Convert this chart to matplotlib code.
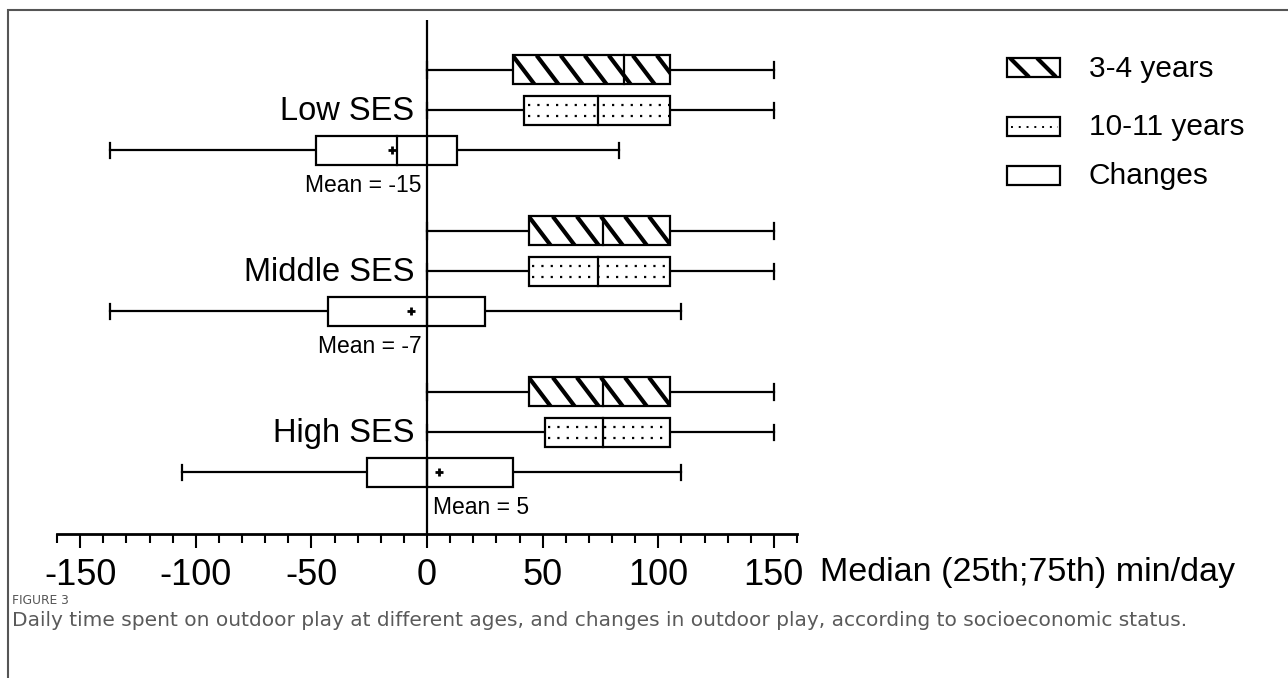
import numpy as np
import matplotlib
matplotlib.use("Agg")
from matplotlib import pyplot as plt
from matplotlib.patches import Rectangle

plt.rcParams["font.family"] = ["Liberation Sans", "DejaVu Sans"]

groups = ["Low SES", "Middle SES", "High SES"]
series = ["3-4 years", "10-11 years", "Changes"]

# whisker low, 25th, median, 75th, whisker high (min/day), one row per SES group
age_34 = [[0, 37, 85, 105, 150], [0, 44, 76, 105, 150], [0, 44, 76, 105, 150]]
age_1011 = [[0, 42, 74, 105, 150], [0, 44, 74, 105, 150], [0, 51, 76, 105, 150]]
changes = [[-137, -48, -13, 13, 83], [-137, -43, 0, 25, 110], [-106, -26, 0, 37, 110]]
change_means = [-15, -7, 5]

major_ticks = list(range(-150, 151, 50))
minor_ticks = list(range(-160, 161, 10))

LW = 1.6
BOX_H = 0.72
CAP_H = 0.38


def draw_box(ax, y, stats, style):
  lo, q1, med, q3, hi = stats
  top, bottom = y - BOX_H / 2, y + BOX_H / 2
  ax.plot([lo, q1], [y, y], color="k", lw=LW, zorder=2)
  ax.plot([q3, hi], [y, y], color="k", lw=LW, zorder=2)
  for x in (lo, hi):
    ax.plot([x, x], [y - CAP_H / 2, y + CAP_H / 2], color="k", lw=LW, zorder=2)
  rect = Rectangle((q1, top), q3 - q1, BOX_H, fc="white", ec="k", lw=LW, zorder=3)
  ax.add_patch(rect)
  if style == "hatch":
    # thick backslash lines like the prism fill
    for x0 in np.arange(q1, q3, 10.4):
      ln, = ax.plot([x0, x0 + 9.5], [top, bottom], color="k", lw=3, zorder=3.5,
                    solid_capstyle="butt")
      ln.set_clip_path(rect)
  elif style == "dots":
    for f in (-0.12, 0.14):
      ln, = ax.plot([q1 + 1.5, q3], [y + f, y + f], color="k", lw=1.6,
                    linestyle=(0, (1, 3.2)), zorder=3.5)
      ln.set_clip_path(rect)
  ax.plot([med, med], [top, bottom], color="k", lw=LW, zorder=4)


fig = plt.figure(figsize=(12.88, 6.78), dpi=100)

# overlay in pixel coords for border, legend, caption
over = fig.add_axes([0, 0, 1, 1])
over.set_xlim(0, 1288)
over.set_ylim(678, 0)
over.axis("off")
over.plot([8, 8, 1288], [678, 10, 10], color="#555555", lw=1.5, solid_joinstyle="miter")

ax = fig.add_axes([57 / 1288, (678 - 534) / 678, 740 / 1288, 514 / 678])
ax.set_facecolor("none")
ax.set_xlim(-160, 160)
ax.set_ylim(11.53, -1.24)

for g, name in enumerate(groups):
  base = 4 * g
  draw_box(ax, base, age_34[g], "hatch")
  draw_box(ax, base + 1, age_1011[g], "dots")
  draw_box(ax, base + 2, changes[g], "plain")
  ax.plot(change_means[g], base + 2, marker="+", ms=6, mew=2, color="k", zorder=5)
  ax.text(-5.5, base + 1.04, name, ha="right", va="center", fontsize=23.5)
  m = change_means[g]
  if m < 0:
    ax.text(-2.5, base + 2.88, "Mean = %d" % m, ha="right", va="center", fontsize=16.5)
  else:
    ax.text(2.5, base + 2.88, "Mean = %d" % m, ha="left", va="center", fontsize=16.5)

ax.axvline(0, color="k", lw=LW, zorder=6)

for s in ("top", "right", "left"):
  ax.spines[s].set_visible(False)
ax.spines["bottom"].set_linewidth(2)
ax.set_yticks([])
ax.set_xticks(major_ticks)
ax.set_xticks(minor_ticks, minor=True)
ax.set_xticklabels([str(t) for t in major_ticks], fontsize=26)
ax.tick_params(axis="x", which="major", length=10, width=1.5, pad=7)
ax.tick_params(axis="x", which="minor", length=6.5, width=1.5)

over.text(820, 572, "Median (25th;75th) min/day", ha="left", va="center", fontsize=24.5)

# legend
leg_y = [58, 117, 166]
leg_text_y = [69, 127, 176]
for i, lab in enumerate(series):
  r = Rectangle((1007, leg_y[i]), 53, 19, fc="white", ec="k", lw=LW)
  over.add_patch(r)
  if i == 0:
    for x0 in np.arange(1010, 1060, 27):
      ln, = over.plot([x0, x0 + 19], [leg_y[i], leg_y[i] + 19], color="k", lw=3,
                      solid_capstyle="butt")
      ln.set_clip_path(r)
  elif i == 1:
    over.plot([1011, 1058], [leg_y[i] + 9.5, leg_y[i] + 9.5], color="k", lw=1.4,
              linestyle=(0, (1, 3)))
  over.text(1089, leg_text_y[i], lab, ha="left", va="center", fontsize=21.5)

# caption
over.text(12, 600, "FIGURE 3", ha="left", va="center", fontsize=8.8,
          color="#555555", family=["DejaVu Sans"])
over.text(12, 621, "Daily time spent on outdoor play at different ages, and changes in outdoor play, "
          "according to socioeconomic status.", ha="left", va="center", fontsize=14.5,
          color="#5a5a5a", family=["DejaVu Sans"])

fig.savefig("out.png", dpi=100)
